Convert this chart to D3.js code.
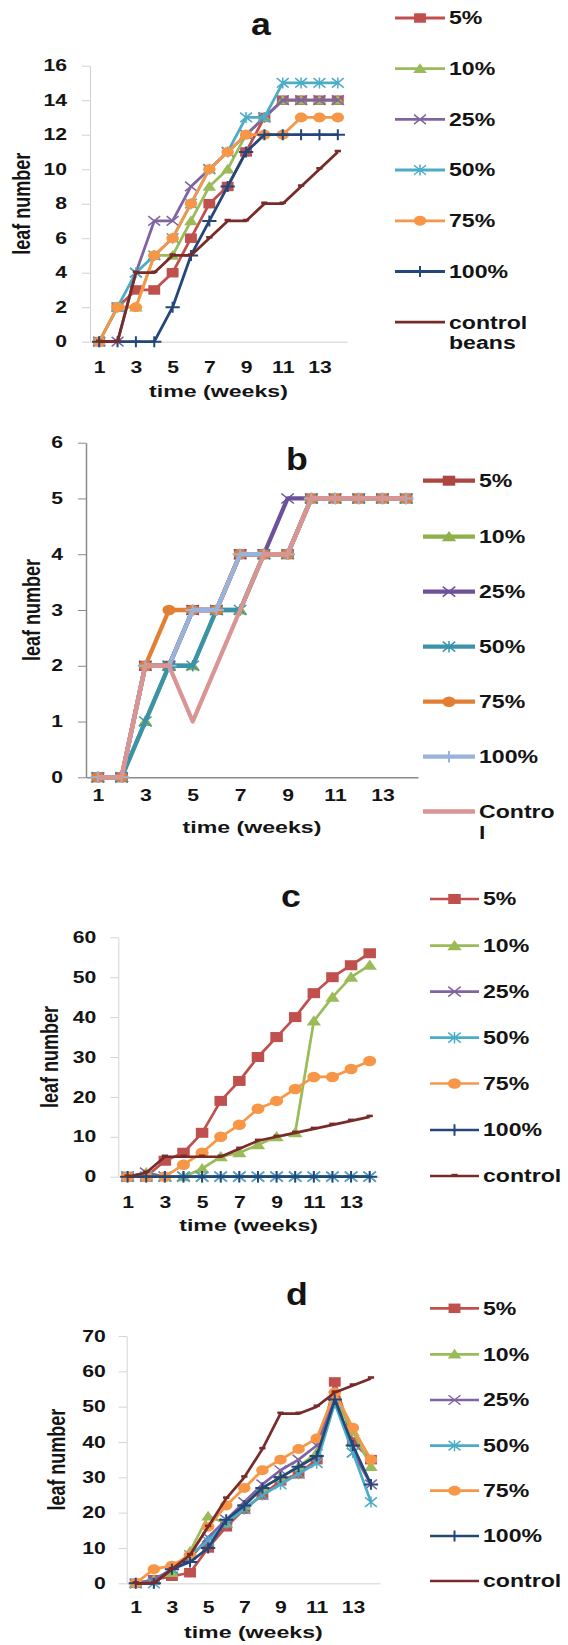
<!DOCTYPE html>
<html><head><meta charset="utf-8">
<script src="https://cdn.jsdelivr.net/npm/d3@7"></script>
<style>
html,body{margin:0;padding:0;background:#fff;}
svg{display:block;}
text{font-family:"Liberation Sans",Arial,sans-serif;font-weight:bold;fill:#141414;}
</style></head><body>
<svg id="chart" width="568" height="1645"></svg>
<script>
// ---- data -------------------------------------------------------------
const weeks = [1,2,3,4,5,6,7,8,9,10,11,12,13,14];
const weekTicks = [1,3,5,7,9,11,13];

const ticksA = [0,2,4,6,8,10,12,14,16];
const ticksB = [0,1,2,3,4,5,6];
const ticksC = [0,10,20,30,40,50,60];
const ticksD = [0,10,20,30,40,50,60,70];

// panel a
const a5   = [0,2,3,3,4,6,8,9,11,13,14,14,14,14];
const a10  = [0,2,2,5,5,7,9,10,12,13,14,14,14,14];
const a25  = [0,0,4,7,7,9,10,11,12,13,14,14,14,14];
const a50  = [0,2,4,5,6,8,10,11,13,13,15,15,15,15];
const a75  = [0,2,2,5,6,8,10,11,12,12,12,13,13,13];
const a100 = [0,0,0,0,2,5,7,9,11,12,12,12,12,12];
const aControl = [0,0,4,4,5,5,6,7,7,8,8,9,10,11];

// panel b
const b5   = [0,0,2,2,3,3,4,4,4,5,5,5,5,5];
const b10  = [0,0,1,2,2,3,3,4,4,5,5,5,5,5];
const b25  = [0,0,2,2,3,3,4,4,5,5,5,5,5,5];
const b50  = [0,0,1,2,2,3,3,4,4,5,5,5,5,5];
const b75  = [0,0,2,3,3,3,4,4,4,5,5,5,5,5];
const b100 = [0,0,2,2,3,3,4,4,4,5,5,5,5,5];
const bControl = [0,0,2,2,1,2,3,4,4,5,5,5,5,5];

// panel c
const c5   = [0,0,4,6,11,19,24,30,35,40,46,50,53,56];
const c10  = [0,1,0,0,2,5,6,8,10,11,39,45,50,53];
const c25  = [0,1,0,0,0,0,0,0,0,0,0,0,0,0];
const c50  = [0,0,0,0,0,0,0,0,0,0,0,0,0,0];
const c75  = [0,0,0,3,6,10,13,17,19,22,25,25,27,29];
const c100 = [0,0,0,0,0,0,0,0,0,0,0,0,0,0];
const cControl = [0,1,5,5,5,5,7,9,10,11,12,13,14,15];

// panel d
const d5   = [0,1,2,3,10,16,21,25,29,31,35,57,40,35];
const d10  = [0,1,3,9,19,17,22,27,30,33,37,52,43,33];
const d25  = [0,1,4,7,13,18,23,28,32,35,39,53,37,28];
const d50  = [0,0,4,8,12,17,21,25,28,31,34,51,37,23];
const d75  = [0,4,5,8,16,22,27,32,35,38,41,54,44,35];
const d100 = [0,0,4,6,10,18,22,27,30,33,36,52,39,28];
const dControl = [0,0,4,8,16,24,30,38,48,48,50,54,56,58];

const names = ["5%","10%","25%","50%","75%","100%"];
const shapes = ["square","triangle","x","star","circle","plus"];
const officeColors = ["#c0504d","#9bbb59","#8064a2","#4bacc6","#f79646","#24477a"];
const mutedColors  = ["#ad4541","#8eb04a","#6d519a","#3a93aa","#e37f35","#99b3da"];

// ---- helpers ----------------------------------------------------------
const svg = d3.select("#chart");
const SX = 1.32;  // horizontal widening of glyphs
const MX = 1.25;  // horizontal widening of markers

function stretchText(sel, k) {
  sel.each(function () {
    const L = this.getComputedTextLength();
    if (L > 0) {
      this.setAttribute("textLength", L * k);
      this.setAttribute("lengthAdjust", "spacingAndGlyphs");
    }
  });
}

function drawMarker(g, shape, color, s) {
  const h = s / 2;
  if (shape === "square") {
    g.append("rect").attr("x", -h).attr("y", -h).attr("width", s).attr("height", s).attr("fill", color);
  } else if (shape === "triangle") {
    g.append("path").attr("d", `M0,${-h*1.15}L${h*1.15},${h*0.9}L${-h*1.15},${h*0.9}Z`).attr("fill", color);
  } else if (shape === "circle") {
    g.append("circle").attr("r", h*1.05).attr("fill", color);
  } else if (shape === "x" || shape === "star") {
    let d = `M${-h},${-h}L${h},${h}M${-h},${h}L${h},${-h}`;
    if (shape === "star") d += `M0,${-h*1.15}L0,${h*1.15}`;
    g.append("path").attr("d", d).attr("stroke", color).attr("stroke-width", 1.5)
      .attr("fill", "none").attr("vector-effect", "non-scaling-stroke");
  } else if (shape === "plus") {
    g.append("path").attr("d", `M${-h*1.2},0L${h*1.2},0M0,${-h*1.15}L0,${h*1.15}`)
      .attr("stroke", color).attr("stroke-width", 2).attr("fill", "none")
      .attr("vector-effect", "non-scaling-stroke");
  } else if (shape === "dash") {
    g.append("rect").attr("x", -2.5).attr("y", -2.2).attr("width", 5).attr("height", 2.6).attr("fill", color);
  }
}

function makeSeries(vals, colors, control, controlColor, controlName, controlShape, controlLegendMark) {
  const s = vals.map((v, i) => ({ name: names[i], values: v, color: colors[i], shape: shapes[i], legendMark: true }));
  s.push({ name: controlName, values: control, color: controlColor, shape: controlShape, legendMark: controlLegendMark });
  return s;
}

function drawPanel(p) {
  const g = svg.append("g");
  const x = d3.scalePoint().domain(weeks).range([p.x0, p.x1]).padding(0.5);
  const y = d3.scaleLinear().domain([0, p.yMax]).range([p.yBot, p.yTop]);

  // y axis
  const ya = g.append("g").attr("transform", `translate(${p.x0},0)`)
    .call(d3.axisLeft(y).tickValues(p.yTicks).tickFormat(d3.format("d"))
      .tickSize(8).tickSizeOuter(0).tickPadding(p.yPad));
  ya.select(".domain").attr("stroke", p.axisColor).attr("stroke-width", p.axisW || 1);
  ya.selectAll(".tick line").attr("stroke", p.axisColor);
  ya.selectAll("text").attr("font-size", 16);
  stretchText(ya.selectAll("text"), SX);

  // x axis
  const xa = g.append("g").attr("transform", `translate(0,${p.yBot})`)
    .call(d3.axisBottom(x).tickValues(weekTicks).tickSize(0).tickSizeOuter(0).tickPadding(p.xPad));
  xa.select(".domain").attr("stroke", p.axisColor).attr("stroke-width", p.axisW || 1);
  xa.selectAll("text").attr("font-size", 16);
  stretchText(xa.selectAll("text"), SX);

  // axis titles
  const tt = g.append("text").attr("x", (p.x0 + p.x1) / 2).attr("y", p.titleY)
    .attr("text-anchor", "middle").attr("font-size", 17).text("time (weeks)");
  stretchText(tt, 1.36);
  g.append("text")
    .attr("transform", `translate(${p.labelX},${(p.yTop + p.yBot) / 2}) rotate(-90) scale(1,1.3)`)
    .attr("text-anchor", "middle").attr("dy", "0.35em").attr("font-size", 18).text("leaf number");

  // panel letter
  g.append("text").attr("x", p.letterX).attr("y", p.letterY).attr("text-anchor", "middle")
    .attr("font-size", 31).text(p.letter).call(s => stretchText(s, 1.15));

  // series
  const line = d3.line().x((d, i) => x(weeks[i])).y(d => y(d));
  p.series.forEach(s => {
    g.append("path").datum(s.values).attr("d", line).attr("fill", "none")
      .attr("stroke", s.color).attr("stroke-width", p.lineW).attr("stroke-linejoin", "round");
    if (s.shape) {
      s.values.forEach((v, i) => {
        const m = g.append("g").attr("transform", `translate(${x(weeks[i])},${y(v)}) scale(${MX},1)`);
        drawMarker(m, s.shape, s.color, p.markSize);
      });
    }
  });

  // legend
  p.series.forEach((s, i) => {
    const ly = p.legendRows[i];
    const lg = g.append("g");
    lg.append("line").attr("x1", p.legendX).attr("x2", p.legendX + p.legendLen)
      .attr("y1", ly).attr("y2", ly).attr("stroke", s.color).attr("stroke-width", p.lineW);
    if (s.shape && s.legendMark) {
      const m = lg.append("g").attr("transform", `translate(${p.legendX + p.legendLen / 2},${ly}) scale(${MX},1)`);
      drawMarker(m, s.shape, s.color, p.markSize);
    }
    const label = Array.isArray(s.name) ? s.name : [s.name];
    label.forEach((t, k) => {
      const tx = lg.append("text").attr("x", p.legendX + p.legendLen + 4).attr("y", ly + k * p.wrapGap)
        .attr("dy", "0.36em").attr("font-size", 17.5).text(t);
      stretchText(tx, SX);
    });
  });
}

// ---- panels -----------------------------------------------------------
drawPanel({
  letter: "a", letterX: 261, letterY: 35,
  x0: 90, x1: 347, yTop: 65.7, yBot: 341.7, yMax: 16, yTicks: ticksA, yPad: 15, xPad: 20,
  axisColor: "#d0d0d0", titleY: 397, labelX: 22, lineW: 2.8, markSize: 9.5,
  legendX: 395, legendLen: 50, wrapGap: 20,
  legendRows: [18, 68.7, 119.4, 170, 220.8, 271.5, 322.2],
  series: makeSeries([a5, a10, a25, a50, a75, a100], officeColors, aControl, "#772c2a",
    ["control", "beans"], "dash", false)
});

drawPanel({
  letter: "b", letterX: 297, letterY: 470,
  x0: 86, x1: 418, yTop: 442.7, yBot: 777.3, yMax: 6, yTicks: ticksB, yPad: 15, xPad: 12,
  axisColor: "#8a8a8a", axisW: 1.5, titleY: 833, labelX: 32, lineW: 4.3, markSize: 10,
  legendX: 423, legendLen: 52, wrapGap: 21,
  legendRows: [480.7, 536.7, 591.7, 646.7, 701.7, 756.7, 811.5],
  series: makeSeries([b5, b10, b25, b50, b75, b100], mutedColors, bControl, "#d99593",
    ["Contro", "l"], null, false)
});

drawPanel({
  letter: "c", letterX: 291, letterY: 907,
  x0: 118.3, x1: 379, yTop: 937.3, yBot: 1176.7, yMax: 60, yTicks: ticksC, yPad: 14, xPad: 20,
  axisColor: "#d4d4d4", titleY: 1231, labelX: 50, lineW: 2.7, markSize: 10,
  legendX: 430, legendLen: 49, wrapGap: 20,
  legendRows: [899, 945.7, 991.7, 1037.7, 1083.5, 1130, 1176],
  series: makeSeries([c5, c10, c25, c50, c75, c100], officeColors, cControl, "#772c2a",
    "control", "dash", true)
});

drawPanel({
  letter: "d", letterX: 297, letterY: 1305,
  x0: 126.7, x1: 380, yTop: 1336, yBot: 1583.3, yMax: 70, yTicks: ticksD, yPad: 13, xPad: 18,
  axisColor: "#d4d4d4", titleY: 1638, labelX: 57, lineW: 2.7, markSize: 9.5,
  legendX: 430, legendLen: 49, wrapGap: 20,
  legendRows: [1308.3, 1354.3, 1400, 1445.7, 1490.7, 1536, 1581],
  series: makeSeries([d5, d10, d25, d50, d75, d100], officeColors, dControl, "#772c2a",
    "control", "dash", false)
});
</script>
</body></html>
